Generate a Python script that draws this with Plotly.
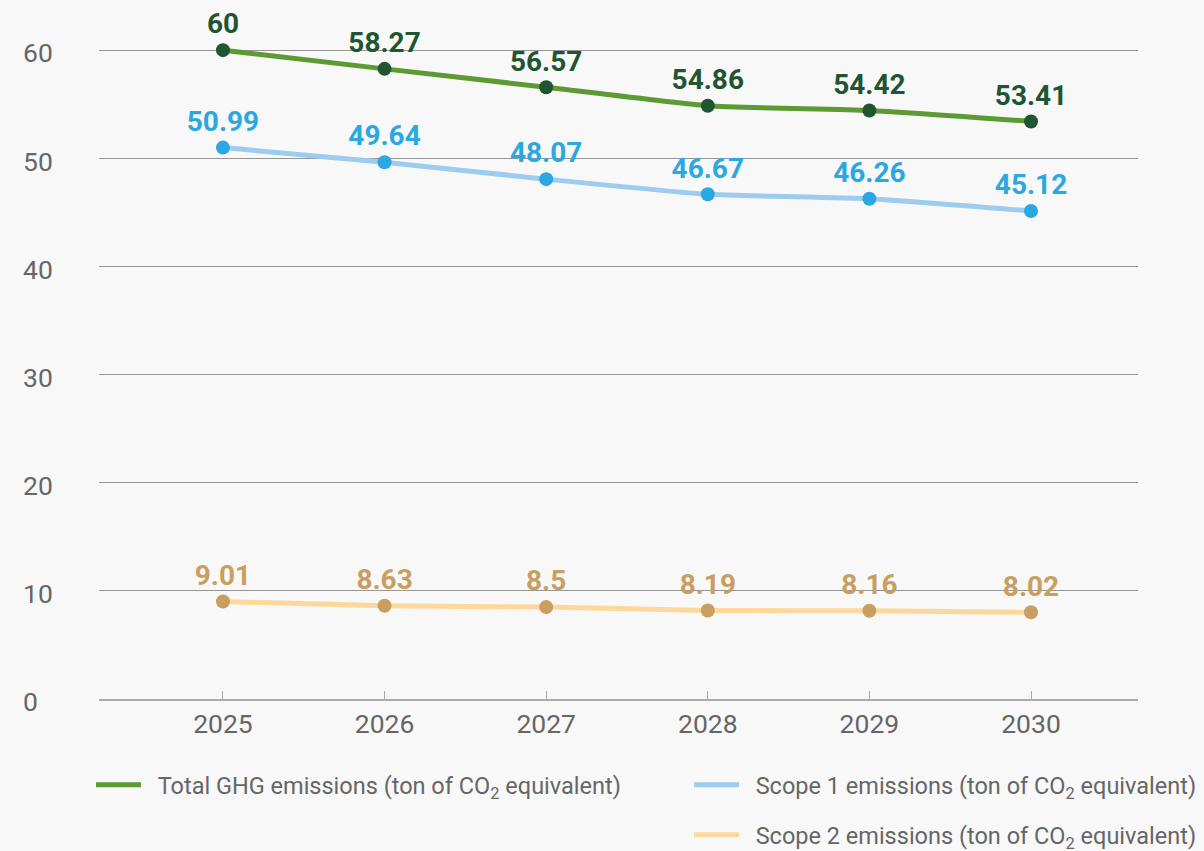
import plotly.graph_objects as go

years = [2025, 2026, 2027, 2028, 2029, 2030]
total = [60, 58.27, 56.57, 54.86, 54.42, 53.41]
scope1 = [50.99, 49.64, 48.07, 46.67, 46.26, 45.12]
scope2 = [9.01, 8.63, 8.5, 8.19, 8.16, 8.02]
names = [
    "\u00a0\u00a0Total GHG emissions (ton of CO<sub>2</sub> equivalent)",
    "\u00a0\u00a0Scope 1 emissions (ton of CO<sub>2</sub> equivalent)",
    "\u00a0\u00a0Scope 2 emissions (ton of CO<sub>2</sub> equivalent)",
]
y_ticks = [0, 10, 20, 30, 40, 50, 60]

FONT = "Roboto"
BG = "#F8F8F8"
series = [
    (total, names[0], "#5C9A33", "#1F5530", "#1F5530", "legend"),
    (scope1, names[1], "#9DCCEF", "#2BA7E1", "#2BA7E1", "legend2"),
    (scope2, names[2], "#FCD89C", "#C89E61", "#C89E61", "legend3"),
]

fig = go.Figure()
for vals, name, lc, mc, tc, lg in series:
    fig.add_trace(go.Scatter(
        x=years, y=vals, mode="lines", name=name,
        line=dict(color=lc, width=5, shape="spline", smoothing=0.5),
        legend=lg, hoverinfo="skip",
    ))
for vals, name, lc, mc, tc, lg in series:
    fig.add_trace(go.Scatter(
        x=years, y=vals, mode="markers+text", showlegend=False,
        marker=dict(color=mc, size=14),
        texttemplate="%{y}", textposition="top center",
        textfont=dict(family=FONT, size=28, color=tc, weight="bold"),
        cliponaxis=False,
    ))

W, H = 1204, 851
L, R, T, B = 99, W - 1138, 48, H - 699

def cy(pix):
    return 1 - pix / H

def cx(pix):
    return pix / W

legend_common = dict(
    orientation="h", bgcolor="rgba(0,0,0,0)", yanchor="middle", xanchor="left",
    xref="container", yref="container",
    font=dict(family=FONT, size=23.5, color="#666666"), itemwidth=45,
)

fig.update_layout(
    width=W, height=H,
    margin=dict(l=L, r=R, t=T, b=B),
    paper_bgcolor=BG, plot_bgcolor=BG,
    xaxis=dict(
        range=[2024.233, 2030.662], tickvals=years, ticktext=[str(y) for y in years],
        showgrid=False, zeroline=False, showline=True, linecolor="#AAAAAA", linewidth=2,
        ticks="inside", ticklen=8, tickcolor="#AAAAAA", tickwidth=1,
        tickfont=dict(family=FONT, size=26.5, color="#666666"),
    ),
    yaxis=dict(
        range=[0, 60.2], tickvals=y_ticks, showgrid=True, gridcolor="#959595", gridwidth=1,
        zeroline=False, showline=False,
        ticklabelposition="inside", ticklabelstandoff=-79, ticklabeloverflow="allow",
        ticklabelshift=3,
        tickfont=dict(family=FONT, size=26.5, color="#666666"),
    ),
    legend=dict(x=cx(91), y=cy(785), **legend_common),
    legend2=dict(x=cx(689), y=cy(785), **legend_common),
    legend3=dict(x=cx(689), y=cy(835), **legend_common),
    showlegend=True,
)

fig.write_html(
    "out.html",
    config={"displayModeBar": False},
    post_script="document.body.style.margin='0';document.body.style.background='%s';" % BG,
)
